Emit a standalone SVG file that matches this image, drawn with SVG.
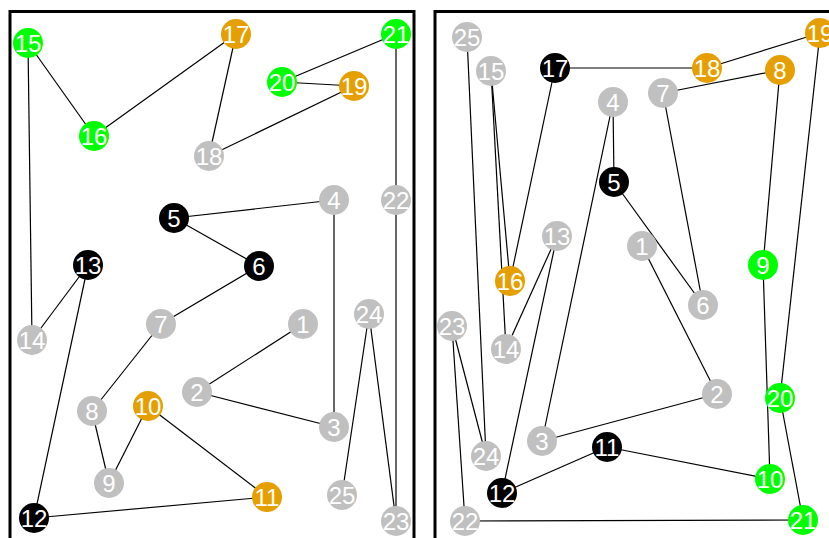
<svg xmlns="http://www.w3.org/2000/svg" width="829" height="538" viewBox="0 0 829 538">
<style>
.frame{fill:none;stroke:#000;stroke-width:3}
.e line{stroke:#000;stroke-width:1.2}
.g circle{fill:#c0c0c0}
.k circle{fill:#000}
.n circle{fill:#00ff00}
.o circle{fill:#e69f00}
text{font-family:"Liberation Sans",Arial,sans-serif;font-size:24px;fill:#fff;text-anchor:middle}
</style>
<rect x="0" y="0" width="829" height="538" fill="#fff"/>
<rect class="frame" x="10" y="11.5" width="404" height="600"/>
<rect class="frame" x="435" y="11.5" width="404" height="600"/>
<g id="connectors-left" class="e">
<line x1="303" y1="324" x2="197" y2="392"/>
<line x1="197" y1="392" x2="334" y2="427"/>
<line x1="334" y1="427" x2="334" y2="200"/>
<line x1="334" y1="200" x2="174" y2="218"/>
<line x1="174" y1="218" x2="259" y2="266"/>
<line x1="259" y1="266" x2="161" y2="324"/>
<line x1="161" y1="324" x2="92" y2="411"/>
<line x1="92" y1="411" x2="109" y2="483"/>
<line x1="109" y1="483" x2="148" y2="406"/>
<line x1="148" y1="406" x2="267" y2="497"/>
<line x1="267" y1="497" x2="34" y2="518"/>
<line x1="34" y1="518" x2="88" y2="265"/>
<line x1="88" y1="265" x2="32" y2="340"/>
<line x1="32" y1="340" x2="28" y2="43"/>
<line x1="28" y1="43" x2="94" y2="136"/>
<line x1="94" y1="136" x2="236" y2="34"/>
<line x1="236" y1="34" x2="209" y2="156"/>
<line x1="209" y1="156" x2="354" y2="86"/>
<line x1="354" y1="86" x2="282" y2="82"/>
<line x1="282" y1="82" x2="396" y2="34"/>
<line x1="396" y1="34" x2="396" y2="200"/>
<line x1="396" y1="200" x2="396" y2="521"/>
<line x1="396" y1="521" x2="369" y2="314"/>
<line x1="369" y1="314" x2="342" y2="495"/>
</g>
<g id="connectors-right" class="e">
<line x1="642" y1="246" x2="717" y2="394"/>
<line x1="717" y1="394" x2="542" y2="441"/>
<line x1="542" y1="441" x2="613" y2="102"/>
<line x1="613" y1="102" x2="614" y2="182"/>
<line x1="614" y1="182" x2="703" y2="305"/>
<line x1="703" y1="305" x2="663" y2="93"/>
<line x1="663" y1="93" x2="780" y2="70"/>
<line x1="780" y1="70" x2="763" y2="265"/>
<line x1="763" y1="265" x2="770" y2="479"/>
<line x1="770" y1="479" x2="607" y2="447"/>
<line x1="607" y1="447" x2="502" y2="493"/>
<line x1="502" y1="493" x2="557" y2="236"/>
<line x1="557" y1="236" x2="506" y2="349"/>
<line x1="506" y1="349" x2="491" y2="71"/>
<line x1="491" y1="71" x2="510" y2="281"/>
<line x1="510" y1="281" x2="555" y2="68"/>
<line x1="555" y1="68" x2="707" y2="68"/>
<line x1="707" y1="68" x2="820" y2="33"/>
<line x1="820" y1="33" x2="780" y2="398"/>
<line x1="780" y1="398" x2="803" y2="520"/>
<line x1="803" y1="520" x2="465" y2="521"/>
<line x1="465" y1="521" x2="452" y2="326"/>
<line x1="452" y1="326" x2="486" y2="456"/>
<line x1="486" y1="456" x2="467" y2="37"/>
</g>
<g id="L1" class="g"><circle cx="303" cy="324" r="15"/><text x="303" y="332.5">1</text></g>
<g id="L2" class="g"><circle cx="197" cy="392" r="15"/><text x="197" y="400.5">2</text></g>
<g id="L3" class="g"><circle cx="334" cy="427" r="15"/><text x="334" y="435.5">3</text></g>
<g id="L4" class="g"><circle cx="334" cy="200" r="15"/><text x="334" y="208.5">4</text></g>
<g id="L5" class="k"><circle cx="174" cy="218" r="15"/><text x="174" y="226.5">5</text></g>
<g id="L6" class="k"><circle cx="259" cy="266" r="15"/><text x="259" y="274.5">6</text></g>
<g id="L7" class="g"><circle cx="161" cy="324" r="15"/><text x="161" y="332.5">7</text></g>
<g id="L8" class="g"><circle cx="92" cy="411" r="15"/><text x="92" y="419.5">8</text></g>
<g id="L9" class="g"><circle cx="109" cy="483" r="15"/><text x="109" y="491.5">9</text></g>
<g id="L10" class="o"><circle cx="148" cy="406" r="15"/><text x="148" y="414.5">10</text></g>
<g id="L11" class="o"><circle cx="267" cy="497" r="15"/><text x="267" y="505.5">11</text></g>
<g id="L12" class="k"><circle cx="34" cy="518" r="15"/><text x="34" y="526.5">12</text></g>
<g id="L13" class="k"><circle cx="88" cy="265" r="15"/><text x="88" y="273.5">13</text></g>
<g id="L14" class="g"><circle cx="32" cy="340" r="15"/><text x="32" y="348.5">14</text></g>
<g id="L15" class="n"><circle cx="28" cy="43" r="15"/><text x="28" y="51.5">15</text></g>
<g id="L16" class="n"><circle cx="94" cy="136" r="15"/><text x="94" y="144.5">16</text></g>
<g id="L17" class="o"><circle cx="236" cy="34" r="15"/><text x="236" y="42.5">17</text></g>
<g id="L18" class="g"><circle cx="209" cy="156" r="15"/><text x="209" y="164.5">18</text></g>
<g id="L19" class="o"><circle cx="354" cy="86" r="15"/><text x="354" y="94.5">19</text></g>
<g id="L20" class="n"><circle cx="282" cy="82" r="15"/><text x="282" y="90.5">20</text></g>
<g id="L21" class="n"><circle cx="396" cy="34" r="15"/><text x="396" y="42.5">21</text></g>
<g id="L22" class="g"><circle cx="396" cy="200" r="15"/><text x="396" y="208.5">22</text></g>
<g id="L23" class="g"><circle cx="396" cy="521" r="15"/><text x="396" y="529.5">23</text></g>
<g id="L24" class="g"><circle cx="369" cy="314" r="15"/><text x="369" y="322.5">24</text></g>
<g id="L25" class="g"><circle cx="342" cy="495" r="15"/><text x="342" y="503.5">25</text></g>
<g id="R1" class="g"><circle cx="642" cy="246" r="15"/><text x="642" y="254.5">1</text></g>
<g id="R2" class="g"><circle cx="717" cy="394" r="15"/><text x="717" y="402.5">2</text></g>
<g id="R3" class="g"><circle cx="542" cy="441" r="15"/><text x="542" y="449.5">3</text></g>
<g id="R4" class="g"><circle cx="613" cy="102" r="15"/><text x="613" y="110.5">4</text></g>
<g id="R5" class="k"><circle cx="614" cy="182" r="15"/><text x="614" y="190.5">5</text></g>
<g id="R6" class="g"><circle cx="703" cy="305" r="15"/><text x="703" y="313.5">6</text></g>
<g id="R7" class="g"><circle cx="663" cy="93" r="15"/><text x="663" y="101.5">7</text></g>
<g id="R8" class="o"><circle cx="780" cy="70" r="15"/><text x="780" y="78.5">8</text></g>
<g id="R9" class="n"><circle cx="763" cy="265" r="15"/><text x="763" y="273.5">9</text></g>
<g id="R10" class="n"><circle cx="770" cy="479" r="15"/><text x="770" y="487.5">10</text></g>
<g id="R11" class="k"><circle cx="607" cy="447" r="15"/><text x="607" y="455.5">11</text></g>
<g id="R12" class="k"><circle cx="502" cy="493" r="15"/><text x="502" y="501.5">12</text></g>
<g id="R13" class="g"><circle cx="557" cy="236" r="15"/><text x="557" y="244.5">13</text></g>
<g id="R14" class="g"><circle cx="506" cy="349" r="15"/><text x="506" y="357.5">14</text></g>
<g id="R15" class="g"><circle cx="491" cy="71" r="15"/><text x="491" y="79.5">15</text></g>
<g id="R16" class="o"><circle cx="510" cy="281" r="15"/><text x="510" y="289.5">16</text></g>
<g id="R17" class="k"><circle cx="555" cy="68" r="15"/><text x="555" y="76.5">17</text></g>
<g id="R18" class="o"><circle cx="707" cy="68" r="15"/><text x="707" y="76.5">18</text></g>
<g id="R19" class="o"><circle cx="820" cy="33" r="15"/><text x="820" y="41.5">19</text></g>
<g id="R20" class="n"><circle cx="780" cy="398" r="15"/><text x="780" y="406.5">20</text></g>
<g id="R21" class="n"><circle cx="803" cy="520" r="15"/><text x="803" y="528.5">21</text></g>
<g id="R22" class="g"><circle cx="465" cy="521" r="15"/><text x="465" y="529.5">22</text></g>
<g id="R23" class="g"><circle cx="452" cy="326" r="15"/><text x="452" y="334.5">23</text></g>
<g id="R24" class="g"><circle cx="486" cy="456" r="15"/><text x="486" y="464.5">24</text></g>
<g id="R25" class="g"><circle cx="467" cy="37" r="15"/><text x="467" y="45.5">25</text></g>
</svg>
